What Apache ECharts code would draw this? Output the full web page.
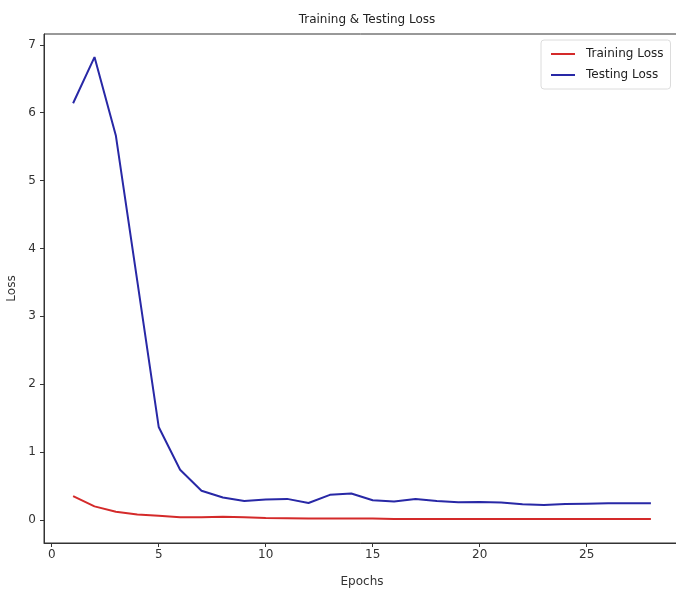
<!DOCTYPE html>
<html>
<head>
<meta charset="utf-8">
<script src="https://cdn.jsdelivr.net/npm/echarts@6/dist/echarts.min.js"></script>
<style>
  html, body { margin: 0; padding: 0; background: #fff; }
  #chart { width: 676px; height: 592px; }
</style>
</head>
<body>
<div id="chart"></div>
<script>
var epochs = [1, 2, 3, 4, 5, 6, 7, 8, 9, 10, 11, 12, 13, 14, 15, 16, 17, 18, 19, 20, 21, 22, 23, 24, 25, 26, 27, 28];
var trainLoss = [0.35, 0.20, 0.12, 0.08, 0.06, 0.04, 0.04, 0.045, 0.04, 0.03, 0.025, 0.02, 0.02, 0.02, 0.02, 0.015, 0.015, 0.015, 0.015, 0.015, 0.015, 0.015, 0.015, 0.015, 0.015, 0.015, 0.015, 0.015];
var testLoss = [6.14, 6.82, 5.66, 3.52, 1.37, 0.74, 0.43, 0.33, 0.28, 0.30, 0.31, 0.25, 0.37, 0.39, 0.29, 0.27, 0.31, 0.28, 0.26, 0.265, 0.255, 0.23, 0.22, 0.235, 0.24, 0.245, 0.245, 0.245];
var xTicks = [0, 5, 10, 15, 20, 25];
var yTicks = [0, 1, 2, 3, 4, 5, 6, 7];

var chart = echarts.init(document.getElementById('chart'));

function pairs(vals) {
  return epochs.map(function (e, i) { return [e, vals[i]]; });
}

var axisTxt = { color: '#333', fontFamily: 'DejaVu Sans', fontSize: 12 };

var option = {
  animation: false,
  title: {
    text: 'Training & Testing Loss',
    left: 362,
    top: 9,
    textAlign: 'center',
    textStyle: { fontFamily: 'DejaVu Sans', fontSize: 12, fontWeight: 'normal', color: '#222' }
  },
  legend: {
    orient: 'vertical',
    left: 541,
    top: 40,
    padding: [8, 7, 8, 10],
    itemGap: 9,
    itemWidth: 24,
    itemHeight: 2,
    icon: 'rect',
    backgroundColor: '#fff',
    borderColor: '#dcdcdc',
    borderWidth: 1,
    borderRadius: 3,
    textStyle: { fontFamily: 'DejaVu Sans', fontSize: 12, color: '#222', padding: [0, 0, 0, 6] },
    data: ['Training Loss', 'Testing Loss']
  },
  grid: {
    left: 44,
    top: 34,
    right: -4,
    bottom: 49,
    outerBoundsMode: 'none',
    containLabel: false,
    show: true,
    borderColor: '#333',
    borderWidth: 1
  },
  xAxis: {
    type: 'value',
    min: -0.36,
    max: 29.36,
    name: 'Epochs',
    nameLocation: 'middle',
    nameGap: 33,
    nameTextStyle: axisTxt,
    axisLine: { onZero: false, lineStyle: { color: '#333' } },
    axisTick: { show: true, length: 4, customValues: xTicks, lineStyle: { color: '#333' } },
    axisLabel: Object.assign({ customValues: xTicks, margin: 6 }, axisTxt),
    splitLine: { show: false }
  },
  yAxis: {
    type: 'value',
    min: -0.34,
    max: 7.16,
    name: 'Loss',
    nameLocation: 'middle',
    nameGap: 24,
    nameRotate: 90,
    nameTextStyle: axisTxt,
    axisLine: { show: true, onZero: false, lineStyle: { color: '#333' } },
    axisTick: { show: true, length: 4, customValues: yTicks, lineStyle: { color: '#333' } },
    axisLabel: Object.assign({ customValues: yTicks, margin: 8 }, axisTxt),
    splitLine: { show: false }
  },
  series: [
    {
      name: 'Training Loss',
      type: 'line',
      data: pairs(trainLoss),
      showSymbol: false,
      itemStyle: { color: '#d42a2a' },
      lineStyle: { color: '#d42a2a', width: 2 }
    },
    {
      name: 'Testing Loss',
      type: 'line',
      data: pairs(testLoss),
      showSymbol: false,
      itemStyle: { color: '#2828a6' },
      lineStyle: { color: '#2828a6', width: 2 }
    }
  ]
};

chart.setOption(option);
</script>
</body>
</html>
